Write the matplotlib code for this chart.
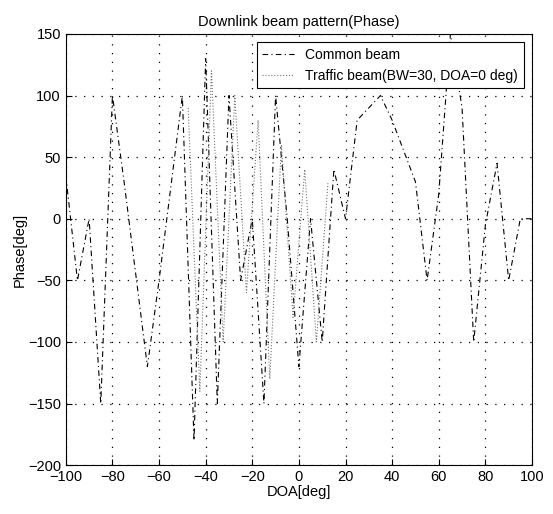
import matplotlib
matplotlib.use('Agg')
import matplotlib.pyplot as plt

plt.rcParams['font.family'] = ['Liberation Sans', 'DejaVu Sans']

# DOA sample points (deg) and phase of the common beam (deg)
doa = list(range(-100, 101, 5))
common_phase = [35, -50, 0, -150, 100, 30, -45, -120, -50, 25,
                100, -180, 130, -150, 100, -50, 0, -150, 100, 0,
                -120, 0, -100, 40, 0, 80, 90, 100, 80, 55,
                30, -50, 20, 150, 90, -100, -5, 45, -50, 0, 0]

# traffic beam (BW=30, DOA=0 deg)
traffic_doa = [-47.5, -42.5, -37.5, -32.5, -27.5, -22.5, -17.5,
               -12.5, -7.5, -2.5, 2.5, 7.5, 12.5]
traffic_phase = [90, -140, 120, -100, 100, -60, 80, -130, 60, -80, 40, -100, 30]

fig = plt.figure(figsize=(5.53, 5.14), dpi=100)
ax = fig.add_axes([0.119, 0.095, 0.843, 0.839])

ax.plot(doa, common_phase, color='black', linestyle=(0, (5, 3, 1, 3)), linewidth=0.8,
        label='Common beam')
ax.plot(traffic_doa, traffic_phase, color='0.45', linestyle=':', linewidth=0.8,
        label='Traffic beam(BW=30, DOA=0 deg)')

ax.set_xlim(-100, 100)
ax.set_ylim(-200, 150)
ax.set_xticks(range(-100, 101, 20))
ax.set_yticks(range(-200, 151, 50))
ax.tick_params(direction='in', labelsize=10.5, length=4)
ax.grid(True, linestyle=(0, (1, 6)), color='black', linewidth=0.9)

ax.set_title('Downlink beam pattern(Phase)', fontsize=10.5)
ax.set_xlabel('DOA[deg]', fontsize=10.5, labelpad=1)
ax.set_ylabel('Phase[deg]', fontsize=10.5, labelpad=1)

leg = ax.legend(loc='upper right', fontsize=10, fancybox=False, framealpha=1,
                edgecolor='black', borderaxespad=0.6, handlelength=2.3)
leg.get_frame().set_linewidth(0.8)

fig.savefig('out.png', dpi=100)
